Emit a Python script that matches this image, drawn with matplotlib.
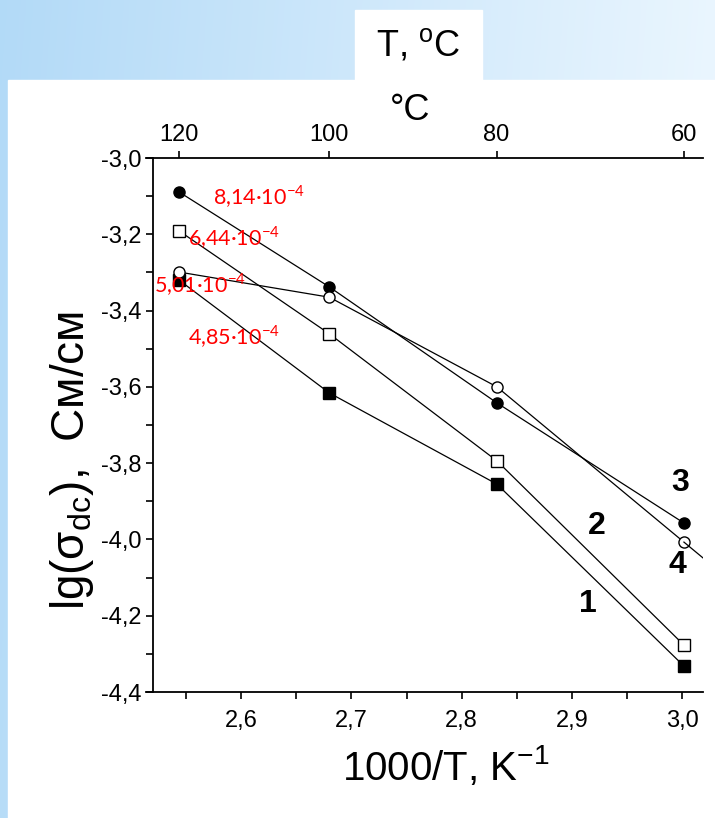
import numpy as np
import matplotlib.pyplot as plt
from matplotlib.patches import Rectangle

# 1000/T values (columns at 120, 100, 80, 60 C)
inv_T = [2.5436, 2.680, 2.832, 3.0017]
s1 = [-3.320, -3.616, -3.855, -4.332]
s2 = [-3.191, -3.461, -3.794, -4.277]
s3 = [-3.089, -3.338, -3.642, -3.957]
s4 = [-3.299, -3.365, -3.600, -4.007]

curve_names = ['1', '2', '3', '4']
curve_xy = [(2.915, -4.169), (2.923, -3.965), (2.998, -3.852), (2.996, -4.067)]

sigma_texts = ['8,14·10$^{\\mathregular{-4}}$', '6,44·10$^{\\mathregular{-4}}$',
               '5,01·10$^{\\mathregular{-4}}$', '4,85·10$^{\\mathregular{-4}}$']
sigma_xy = [(2.5745, -3.102), (2.5518, -3.210), (2.521, -3.333), (2.5518, -3.469)]

y_ticks = [-3.0, -3.2, -3.4, -3.6, -3.8, -4.0, -4.2, -4.4]
x_ticks = [2.6, 2.7, 2.8, 2.9, 3.0]
top_ticks = [120, 100, 80, 60]

plt.rcParams['font.family'] = ['Liberation Sans', 'DejaVu Sans']

fig = plt.figure(figsize=(7.15, 8.18), dpi=100)

# background gradient
bg = fig.add_axes([0, 0, 1, 1], zorder=-10)
GX, GY = np.meshgrid(np.linspace(0, 1, 300), np.linspace(0, 1, 300))
t = np.clip(0.9 * GX + 0.08 * GY, 0, 1)
c0 = np.array([0.70, 0.855, 0.97])
c1 = np.array([0.94, 0.975, 1.0])
img = c0[None, None, :] * (1 - t[..., None]) + c1[None, None, :] * t[..., None]
bg.imshow(img, aspect='auto', extent=[0, 1, 0, 1], origin='upper')
bg.set_axis_off()
bg.add_patch(Rectangle((8 / 715, 0), 1, 1 - 80 / 818, color='white', transform=bg.transAxes))
bg.add_patch(Rectangle((355 / 715, 1 - 80 / 818), 127 / 715, 70 / 818, color='white',
                       transform=bg.transAxes))
bg.set_xlim(0, 1)
bg.set_ylim(0, 1)

fig.text(418 / 715, 1 - 45 / 818, 'T, $^{\\mathregular{o}}$C', fontsize=26,
         ha='center', va='center')

ax = fig.add_axes([153 / 715, 1 - 692 / 818, 550 / 715, 534 / 818])
ax.patch.set_alpha(0)

kw = dict(color='black', lw=0.9, ms=8, mew=1.0, mec='black')
ax.plot(inv_T, s1, marker='s', mfc='black', **kw)
ax.plot(inv_T, s2, marker='s', mfc='white', **kw)
ax.plot(inv_T, s3, marker='o', mfc='black', **kw)
ax.plot(inv_T, s4, marker='o', mfc='white', **kw)

# curve 4 line runs on to the right edge
slope = (s4[3] - s4[2]) / (inv_T[3] - inv_T[2])
x_end = 3.019
ax.plot([inv_T[3], x_end], [s4[3], s4[3] + slope * (x_end - inv_T[3])], color='black', lw=0.9)

for name, (x, y) in zip(curve_names, curve_xy):
    ax.text(x, y, name, fontsize=23, fontweight='bold', ha='center', va='center')

for txt, (x, y) in zip(sigma_texts, sigma_xy):
    ax.text(x, y, txt, fontsize=15.5, color='red', family=['Lato', 'DejaVu Sans'],
            ha='left', va='center', zorder=5)

ax.set_xlim(2.52, x_end)
ax.set_ylim(-4.4, -3.0)
ax.set_xticks(x_ticks)
ax.set_xticklabels([f'{v:.1f}'.replace('.', ',') for v in x_ticks])
ax.set_xticks(np.arange(2.55, 3.01, 0.1), minor=True)
ax.set_yticks(y_ticks)
ax.set_yticklabels([f'{v:.1f}'.replace('.', ',') for v in y_ticks])
ax.set_yticks(np.arange(-4.3, -3.0, 0.2), minor=True)
ax.spines['right'].set_visible(False)
for s in ax.spines.values():
    s.set_linewidth(1.3)
ax.spines['bottom'].set_bounds(2.5137, x_end)
ax.spines['top'].set_bounds(2.5137, x_end)
ax.tick_params(which='both', direction='out', length=5, width=1.2, labelsize=17)
ax.tick_params(axis='x', pad=8)

sec = ax.secondary_xaxis('top', functions=(lambda x: 1000 / x - 273.15,
                                            lambda c: 1000 / (c + 273.15)))
sec.set_xticks(top_ticks)
sec.set_xticklabels([str(v) for v in top_ticks])
sec.tick_params(direction='out', length=5, width=1.2, labelsize=17)
sec.spines['top'].set_visible(False)

fig.text(446 / 715, 1 - 766 / 818, '1000/T, K$^{\\mathregular{-1}}$', fontsize=29,
         ha='center', va='center')
fig.text(72 / 715, 1 - 460 / 818, 'lg(σ$_{\\mathregular{dc}}$),  См/см', fontsize=33,
         rotation=90, ha='center', va='center')
fig.text(410 / 715, 1 - 110 / 818, '°C', fontsize=26, ha='center', va='center')

fig.savefig('out.png', dpi=100)
